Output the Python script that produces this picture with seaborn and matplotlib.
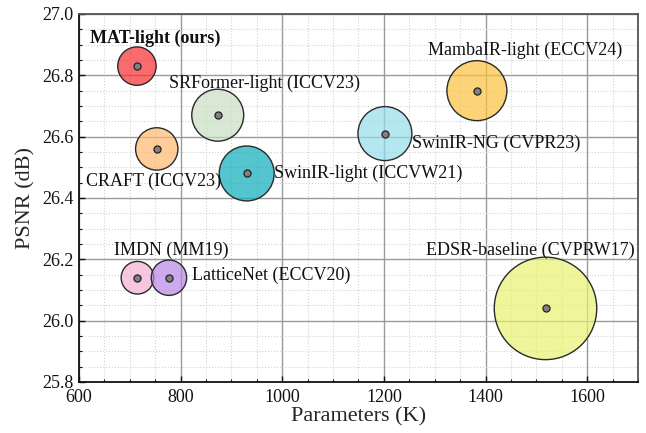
import matplotlib
matplotlib.use("Agg")
import matplotlib.pyplot as plt
from matplotlib.colors import to_rgba
from matplotlib.ticker import MultipleLocator
import seaborn as sns
import pandas as pd

# Lightweight SR models: parameter count, PSNR and compute cost (bubble size)
models = [
    "MAT-light (ours)", "SRFormer-light (ICCV23)", "CRAFT (ICCV23)",
    "SwinIR-light (ICCVW21)", "SwinIR-NG (CVPR23)", "MambaIR-light (ECCV24)",
    "IMDN (MM19)", "LatticeNet (ECCV20)", "EDSR-baseline (CVPRW17)",
]
params_k = [714, 873, 753, 930, 1202, 1383, 715, 777, 1518]
psnr_db = [26.83, 26.67, 26.56, 26.48, 26.61, 26.75, 26.14, 26.14, 26.04]
cost = [36.9, 67.6, 44.9, 75.6, 72.9, 90.0, 26.6, 31.3, 263.0]

colors = ["#f82c30", "#cadec4", "#ffb870", "#0cacba", "#94deea",
          "#fbc33e", "#f5b0d4", "#b886e7", "#e7f170"]
# label offsets (points) relative to each bubble centre
offsets = [(-34, 20), (-35, 23), (-51, -23), (19.5, 0), (19.5, -7),
           (-35, 29), (-17, 19.5), (16.5, 1.5), (-86, 42)]

df = pd.DataFrame({"model": models, "params": params_k,
                   "psnr": psnr_db, "cost": cost})

sns.set_theme(style="white")
plt.rcParams["font.family"] = ["Liberation Serif", "DejaVu Serif"]

fig = plt.figure(figsize=(6.46, 4.33), dpi=100)
ax = fig.add_axes([0.1223, 0.1178, 0.8653, 0.8499])

# translucent fills, opaque outlines
palette = {m: to_rgba(c, 0.7) for m, c in zip(models, colors)}
k = 20.7  # marker area (pt^2) per cost unit
sns.scatterplot(data=df, x="params", y="psnr", hue="model",
                palette=palette, size="cost",
                sizes=(min(cost) * k, max(cost) * k),
                size_norm=(min(cost), max(cost)),
                edgecolor="#2a2a2a", linewidth=1.0,
                legend=False, ax=ax, zorder=3)
sns.scatterplot(data=df, x="params", y="psnr", color="#808080",
                edgecolor="#222222", linewidth=0.9, s=26,
                legend=False, ax=ax, zorder=4)

for m, x, y, (dx, dy) in zip(models, params_k, psnr_db, offsets):
    ax.annotate(m, (x, y), xytext=(dx, dy), textcoords="offset points",
                ha="left", va="center", fontsize=13, color="#111111",
                fontweight="bold" if "ours" in m else "normal", zorder=5)

ax.set_xlim(600, 1700)
ax.set_ylim(25.8, 27.0)
ax.xaxis.set_major_locator(MultipleLocator(200))
ax.xaxis.set_minor_locator(MultipleLocator(50))
ax.yaxis.set_major_locator(MultipleLocator(0.2))
ax.yaxis.set_minor_locator(MultipleLocator(0.05))
ax.yaxis.set_major_formatter(plt.FormatStrFormatter("%.1f"))

ax.set_axisbelow(True)
ax.grid(which="major", color="#9a9a9a", linewidth=1.0)
ax.grid(which="minor", color="#d2d2d2", linewidth=0.8, linestyle=":")

ax.tick_params(which="both", direction="in", bottom=True, left=True,
               top=False, right=False, labelsize=13, colors="#111111")
ax.tick_params(which="major", length=4, width=1)
ax.tick_params(which="minor", length=2.5, width=0.8)
ax.tick_params(axis="x", which="major", pad=5)
ax.tick_params(axis="y", which="major", pad=4)

for side in ["left", "bottom"]:
    ax.spines[side].set_color("#111111")
    ax.spines[side].set_linewidth(1.3)
for side in ["top", "right"]:
    ax.spines[side].set_color("#555555")
    ax.spines[side].set_linewidth(1.3)

ax.set_xlabel("Parameters (K)", fontsize=16, labelpad=1)
ax.set_ylabel("PSNR (dB)", fontsize=16, labelpad=5)

fig.savefig("out.png", dpi=100)
